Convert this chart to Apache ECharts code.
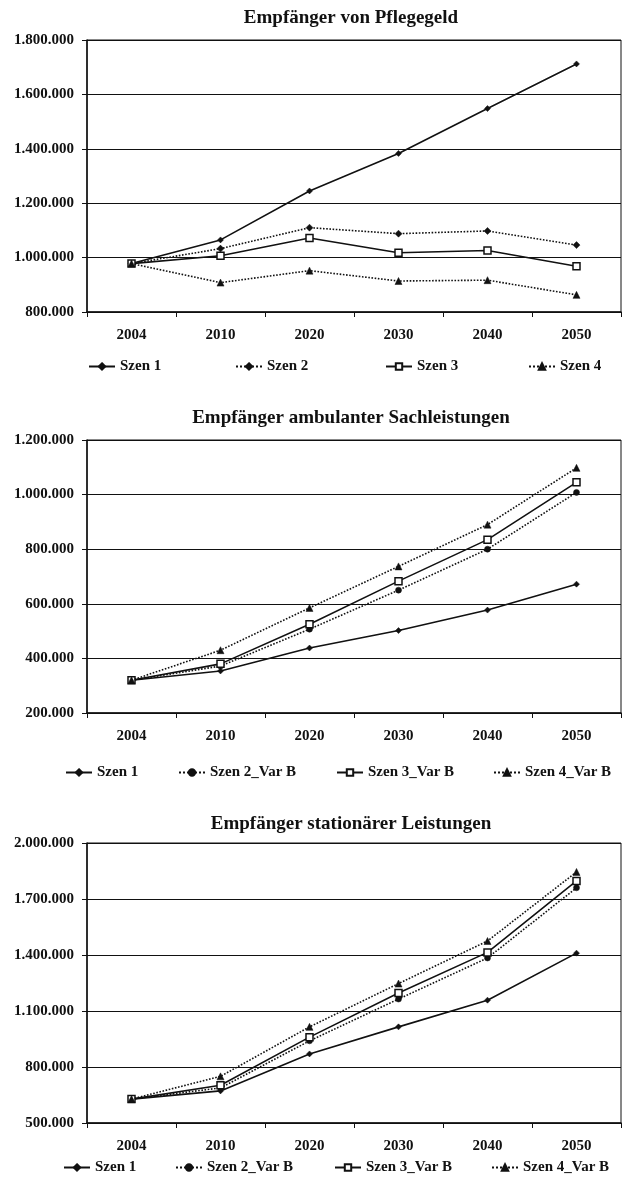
<!DOCTYPE html>
<html>
<head>
<meta charset="utf-8">
<script src="https://cdn.jsdelivr.net/npm/echarts@6/dist/echarts.min.js"></script>
<style>html,body{margin:0;padding:0;background:#fff;}#c{width:626px;height:1179px;}</style>
</head>
<body>
<div id="c"></div>
<script>
const years = ['2004','2010','2020','2030','2040','2050'];

const titles = ['Empfänger von Pflegegeld','Empfänger ambulanter Sachleistungen','Empfänger stationärer Leistungen'];

// Chart 1: Empfänger von Pflegegeld
const c1_szen1 = [978000, 1065000, 1245000, 1383000, 1548000, 1712000];
const c1_szen2 = [978000, 1033000, 1110000, 1088000, 1098000, 1046000];
const c1_szen3 = [978000, 1007000, 1072000, 1018000, 1026000, 968000];
const c1_szen4 = [978000, 908000, 952000, 914000, 917000, 863000];
const c1_names = ['Szen 1','Szen 2','Szen 3','Szen 4'];

// Chart 2: Empfänger ambulanter Sachleistungen
const c2_szen1 = [320000, 354000, 438000, 502000, 577000, 672000];
const c2_szen2 = [320000, 372000, 507000, 650000, 800000, 1008000];
const c2_szen3 = [320000, 380000, 525000, 683000, 835000, 1045000];
const c2_szen4 = [320000, 430000, 585000, 737000, 890000, 1098000];
const c2_names = ['Szen 1','Szen 2_Var B','Szen 3_Var B','Szen 4_Var B'];

// Chart 3: Empfänger stationärer Leistungen
const c3_szen1 = [628000, 672000, 870000, 1015000, 1158000, 1410000];
const c3_szen2 = [628000, 688000, 940000, 1164000, 1384000, 1760000];
const c3_szen3 = [628000, 702000, 960000, 1196000, 1414000, 1797000];
const c3_szen4 = [628000, 750000, 1015000, 1247000, 1475000, 1845000];
const c3_names = ['Szen 1','Szen 2_Var B','Szen 3_Var B','Szen 4_Var B'];

const yRanges = [[800000,1800000,200000],[200000,1200000,200000],[500000,2000000,300000]];

const FONT = '"Liberation Serif","DejaVu Serif",serif';
const grids = [{top:40,height:272},{top:440,height:273},{top:843,height:280}];
const titleTops = [4, 404, 810];
const legendTops = [354, 760, 1155];
const legendLefts = [[83,230,380,523],[60,173,331,488],[58,170,329,486]];

function fmt(v){ return String(Math.round(v)).replace(/\B(?=(\d{3})+(?!\d))/g,'.'); }

const chart = echarts.init(document.getElementById('c'), null, {renderer:'canvas'});

const seriesData = [
  [c1_szen1,c1_szen2,c1_szen3,c1_szen4],
  [c2_szen1,c2_szen2,c2_szen3,c2_szen4],
  [c3_szen1,c3_szen2,c3_szen3,c3_szen4]
];
const allNames = [c1_names,c2_names,c3_names];

const styles = (ci) => [
  {symbol:'diamond', symbolSize:6, line:'solid', fill:'#111'},
  {symbol: ci===0 ? 'diamond' : 'circle', symbolSize: ci===0 ? 7 : 6, line:'dotted', fill:'#111'},
  {symbol:'rect', symbolSize:7, line:'solid', fill:'#fff'},
  {symbol:'triangle', symbolSize:7, line:'dotted', fill:'#111'}
];

const option = {
  backgroundColor:'#fff',
  animation:false,
  title: titles.map((t,i)=>({
    text:t, left:346, top: titleTops[i], textAlign:'center',
    textStyle:{fontFamily:FONT, fontWeight:'bold', fontSize:19, color:'#111'}
  })),
  grid: grids.map(g=>({left:87, right:5, top:g.top, height:g.height, show:true, borderColor:'#111', borderWidth:1, containLabel:false})),
  xAxis: grids.map((g,i)=>({
    type:'category', gridIndex:i, data:years, boundaryGap:true,
    axisLine:{lineStyle:{color:'#111', width:1.5}},
    axisTick:{show:true, length:5, lineStyle:{color:'#111'}},
    axisLabel:{fontFamily:FONT, fontWeight:'bold', fontSize:15, color:'#111', margin:16}
  })),
  yAxis: yRanges.map((r,i)=>({
    type:'value', gridIndex:i, min:r[0], max:r[1], interval:r[2],
    axisLine:{show:true, lineStyle:{color:'#111', width:1.5}},
    axisTick:{show:true, length:5, lineStyle:{color:'#111'}},
    splitLine:{show:true, lineStyle:{color:'#111', width:1}},
    axisLabel:{fontFamily:FONT, fontWeight:'bold', fontSize:15, color:'#111', margin:13, formatter:fmt}
  })),
  legend: [],
  series: []
};

seriesData.forEach((sets,ci)=>{
  const st = styles(ci);
  sets.forEach((d,si)=>{
    option.series.push({
      type:'line', name: allNames[ci][si], xAxisIndex:ci, yAxisIndex:ci, data:d,
      symbol: st[si].symbol, symbolSize: st[si].symbolSize, showSymbol:true,
      lineStyle:{color:'#111', width:1.6, type: st[si].line},
      itemStyle:{color: st[si].fill, borderColor:'#111', borderWidth: st[si].fill==='#fff'?1.5:0.5},
      z: 3 + si
    });
    option.legend.push({
      data:[allNames[ci][si]], left: legendLefts[ci][si], top: legendTops[ci],
      itemWidth:26, itemHeight:8, itemGap:4,
      textStyle:{fontFamily:FONT, fontWeight:'bold', fontSize:15, color:'#111'},
      selectedMode:false
    });
  });
});

chart.setOption(option);
</script>
</body>
</html>
